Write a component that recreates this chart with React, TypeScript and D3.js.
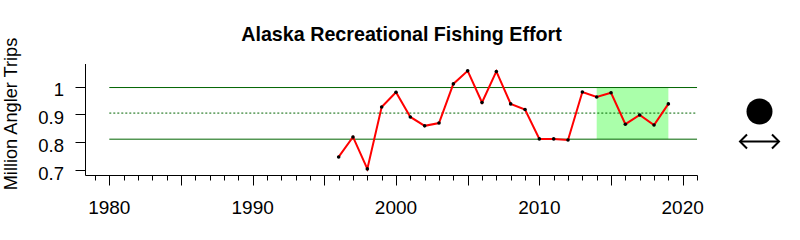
import React from "react";
import * as d3 from "d3";

const years = [1996,1997,1998,1999,2000,2001,2002,2003,2004,2005,2006,2007,2008,2009,2010,2011,2012,2013,2014,2015,2016,2017,2018,2019];
const trips = [0.747,0.819,0.704,0.927,0.980,0.891,0.859,0.869,1.010,1.057,0.943,1.055,0.938,0.918,0.812,0.812,0.808,0.981,0.963,0.978,0.865,0.898,0.862,0.938];
const xTickLabels = [1980, 1990, 2000, 2010, 2020];
const yTickLabels = [0.7, 0.8, 0.9, 1.0];
const meanLine = 0.905;
const upperLine = 0.997;
const lowerLine = 0.811;
const recentStart = 2014;
const recentEnd = 2019;

const FONT = "'Liberation Sans', Arial, sans-serif";

export default function App() {
  const x = d3.scaleLinear().domain([1980, 2020]).range([109.3, 682.7]);
  const y = d3.scaleLinear().domain([0.7, 1.0]).range([170, 86.7]);
  const line = d3.line<number>().x((_, i) => x(years[i])).y((d) => y(d));
  const allYears = d3.range(1979, 2022);
  const axisY = 175.5;
  const axisX = 85.5;

  return (
    <svg width={800} height={240} style={{ position: "absolute", left: 0, top: 0, background: "#fff" }}>
      <text x={401.5} y={41} textAnchor="middle" fontFamily={FONT} fontWeight="bold" fontSize={19.7}>
        Alaska Recreational Fishing Effort
      </text>
      <text transform={`translate(16.5,114) rotate(-90)`} textAnchor="middle" fontFamily={FONT} fontSize={18.2}>
        Million Angler Trips
      </text>
      {/* recent box */}
      <rect x={x(recentStart)} y={y(upperLine)} width={x(recentEnd) - x(recentStart)} height={y(lowerLine) - y(upperLine)} fill="#aaffaa" />
      {/* reference lines */}
      <line x1={x(1980)} x2={x(2021)} y1={y(upperLine)} y2={y(upperLine)} stroke="#006400" strokeWidth={1} />
      <line x1={x(1980)} x2={x(2021)} y1={y(lowerLine)} y2={y(lowerLine)} stroke="#006400" strokeWidth={1} />
      <line x1={x(1980)} x2={x(2021)} y1={y(meanLine)} y2={y(meanLine)} stroke="#006400" strokeWidth={1} strokeDasharray="2,2" />
      {/* data */}
      <path d={line(trips) ?? ""} fill="none" stroke="#ff0000" strokeWidth={2} />
      {trips.map((v, i) => (
        <circle key={i} cx={x(years[i])} cy={y(v)} r={1.8} fill="#000" />
      ))}
      {/* y axis */}
      <line x1={axisX} x2={axisX} y1={64} y2={axisY} stroke="#000" />
      {yTickLabels.map((t) => (
        <g key={t}>
          <line x1={axisX - 10} x2={axisX} y1={Math.round(y(t)) + 0.5} y2={Math.round(y(t)) + 0.5} stroke="#000" />
          <text x={64} y={y(t) + 9.5} textAnchor="end" fontFamily={FONT} fontSize={18.5}>
            {t === 1 ? "1" : t.toFixed(1)}
          </text>
        </g>
      ))}
      {/* x axis */}
      <line x1={axisX} x2={x(2021) + 0.5} y1={axisY} y2={axisY} stroke="#000" />
      {allYears.map((yr) => (
        <line key={yr} x1={Math.round(x(yr)) + 0.5} x2={Math.round(x(yr)) + 0.5} y1={axisY} y2={axisY + (yr % 5 === 0 ? 10 : 5)} stroke="#000" />
      ))}
      {xTickLabels.map((t) => (
        <text key={t} x={x(t)} y={214} textAnchor="middle" fontFamily={FONT} fontSize={19}>
          {t}
        </text>
      ))}
      {/* right-side symbols */}
      <circle cx={759.5} cy={111.5} r={13} fill="#000" />
      <line x1={741} x2={778} y1={141.5} y2={141.5} stroke="#000" strokeWidth={2} />
      <polyline points="747,134.5 740,141.5 747,148.5" fill="none" stroke="#000" strokeWidth={2} />
      <polyline points="772,134.5 779,141.5 772,148.5" fill="none" stroke="#000" strokeWidth={2} />
    </svg>
  );
}
